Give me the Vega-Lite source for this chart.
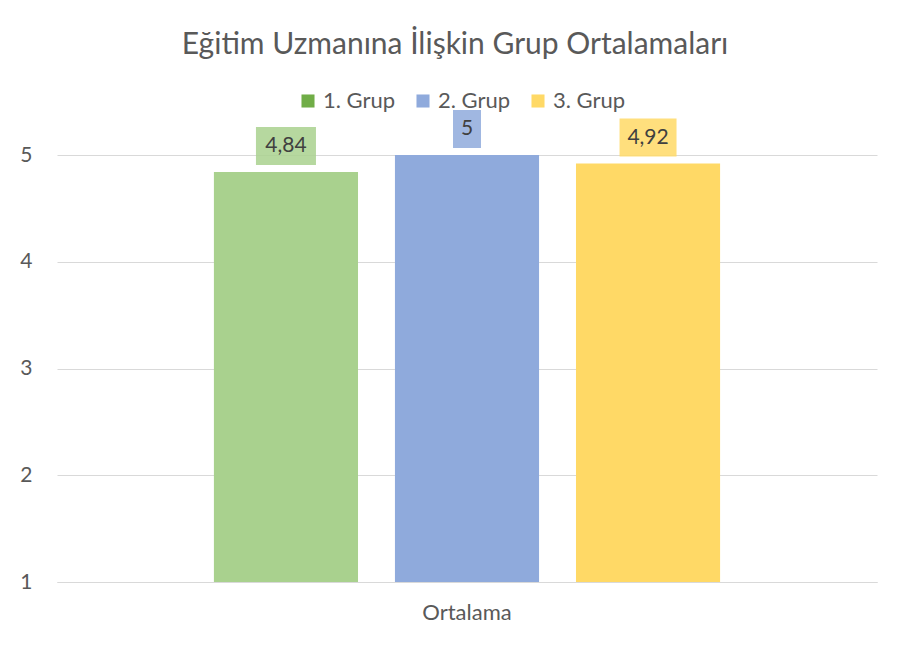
{
  "$schema": "https://vega.github.io/schema/vega-lite/v6.json",
  "width": 820,
  "height": 427,
  "autosize": {"type": "none"},
  "padding": {"left": 57, "top": 155, "right": 21, "bottom": 64},
  "background": "white",
  "config": {"font": "Lato", "view": {"stroke": null}},
  "title": {
    "text": "Eğitim Uzmanına İlişkin Grup Ortalamaları",
    "fontSize": 30,
    "fontWeight": "normal",
    "color": "#595959",
    "anchor": "middle",
    "dx": -12,
    "offset": 30
  },
  "datasets": {
    "ortalamalar": [
      {"kategori": "Ortalama", "grup": "1. Grup", "deger": 4.84, "etiket": "4,84"},
      {"kategori": "Ortalama", "grup": "2. Grup", "deger": 5, "etiket": "5"},
      {"kategori": "Ortalama", "grup": "3. Grup", "deger": 4.92, "etiket": "4,92"}
    ],
    "seriler": [
      {"kategori": "Ortalama", "seri": "1. Grup", "deger": 1},
      {"kategori": "Ortalama", "seri": "2. Grup", "deger": 1},
      {"kategori": "Ortalama", "seri": "3. Grup", "deger": 1}
    ]
  },
  "resolve": {"scale": {"color": "independent"}, "legend": {"color": "independent"}},
  "layer": [
    {
      "data": {"name": "ortalamalar"},
      "encoding": {
        "x": {
          "field": "kategori",
          "type": "nominal",
          "scale": {"paddingOuter": 0.31, "paddingInner": 0},
          "axis": {
            "title": null,
            "labelAngle": 0,
            "labelFontSize": 22,
            "labelColor": "#595959",
            "ticks": false,
            "domainColor": "#D9D9D9",
            "labelPadding": 20
          }
        },
        "xOffset": {
          "field": "grup",
          "type": "nominal",
          "scale": {"paddingInner": 0.204, "paddingOuter": 0}
        },
        "color": {
          "field": "grup",
          "type": "nominal",
          "scale": {"domain": ["1. Grup", "2. Grup", "3. Grup"], "range": ["#A9D18E", "#8FAADC", "#FFD966"]},
          "legend": null
        }
      },
      "layer": [
        {
          "mark": {"type": "bar"},
          "encoding": {
            "y": {
              "field": "deger",
              "type": "quantitative",
              "scale": {"domain": [1, 5], "nice": false, "zero": false},
              "axis": {
                "values": [1, 2, 3, 4, 5],
                "format": "d",
                "title": null,
                "ticks": false,
                "domain": false,
                "gridColor": "#D9D9D9",
                "labelFontSize": 21,
                "labelColor": "#595959",
                "labelPadding": 25
              }
            },
            "y2": {"datum": 1}
          }
        },
        {
          "mark": {"type": "bar", "yOffset": -7, "y2Offset": -45, "opacity": 0.85},
          "encoding": {
            "y": {"field": "deger", "type": "quantitative"},
            "y2": {"field": "deger"},
            "size": {
              "field": "etiket",
              "type": "nominal",
              "scale": {"type": "ordinal", "domain": ["4,84", "5", "4,92"], "range": [60, 28, 57]},
              "legend": null
            }
          }
        },
        {
          "mark": {"type": "text", "fontSize": 21, "baseline": "middle", "dy": -26},
          "encoding": {
            "y": {"field": "deger", "type": "quantitative"},
            "text": {"field": "etiket"},
            "color": {"value": "#404040"}
          }
        }
      ]
    },
    {
      "data": {"name": "seriler"},
      "mark": {"type": "square", "opacity": 0, "size": 1},
      "encoding": {
        "x": {"field": "kategori", "type": "nominal"},
        "y": {"field": "deger", "type": "quantitative"},
        "color": {
          "field": "seri",
          "type": "nominal",
          "scale": {"domain": ["1. Grup", "2. Grup", "3. Grup"], "range": ["#70AD47", "#8FAADC", "#FFD966"]},
          "legend": {
            "orient": "none",
            "legendX": 240,
            "legendY": -65,
            "direction": "horizontal",
            "title": null,
            "labelFontSize": 22,
            "labelColor": "#595959",
            "symbolType": "square",
            "symbolSize": 170,
            "symbolStrokeWidth": 0,
            "symbolOpacity": 1,
            "columnPadding": 16,
            "labelOffset": 4,
            "encode": {
              "symbols": {
                "update": {"opacity": {"value": 1}, "fillOpacity": {"value": 1}, "size": {"value": 170}}
              }
            }
          }
        }
      }
    }
  ]
}
